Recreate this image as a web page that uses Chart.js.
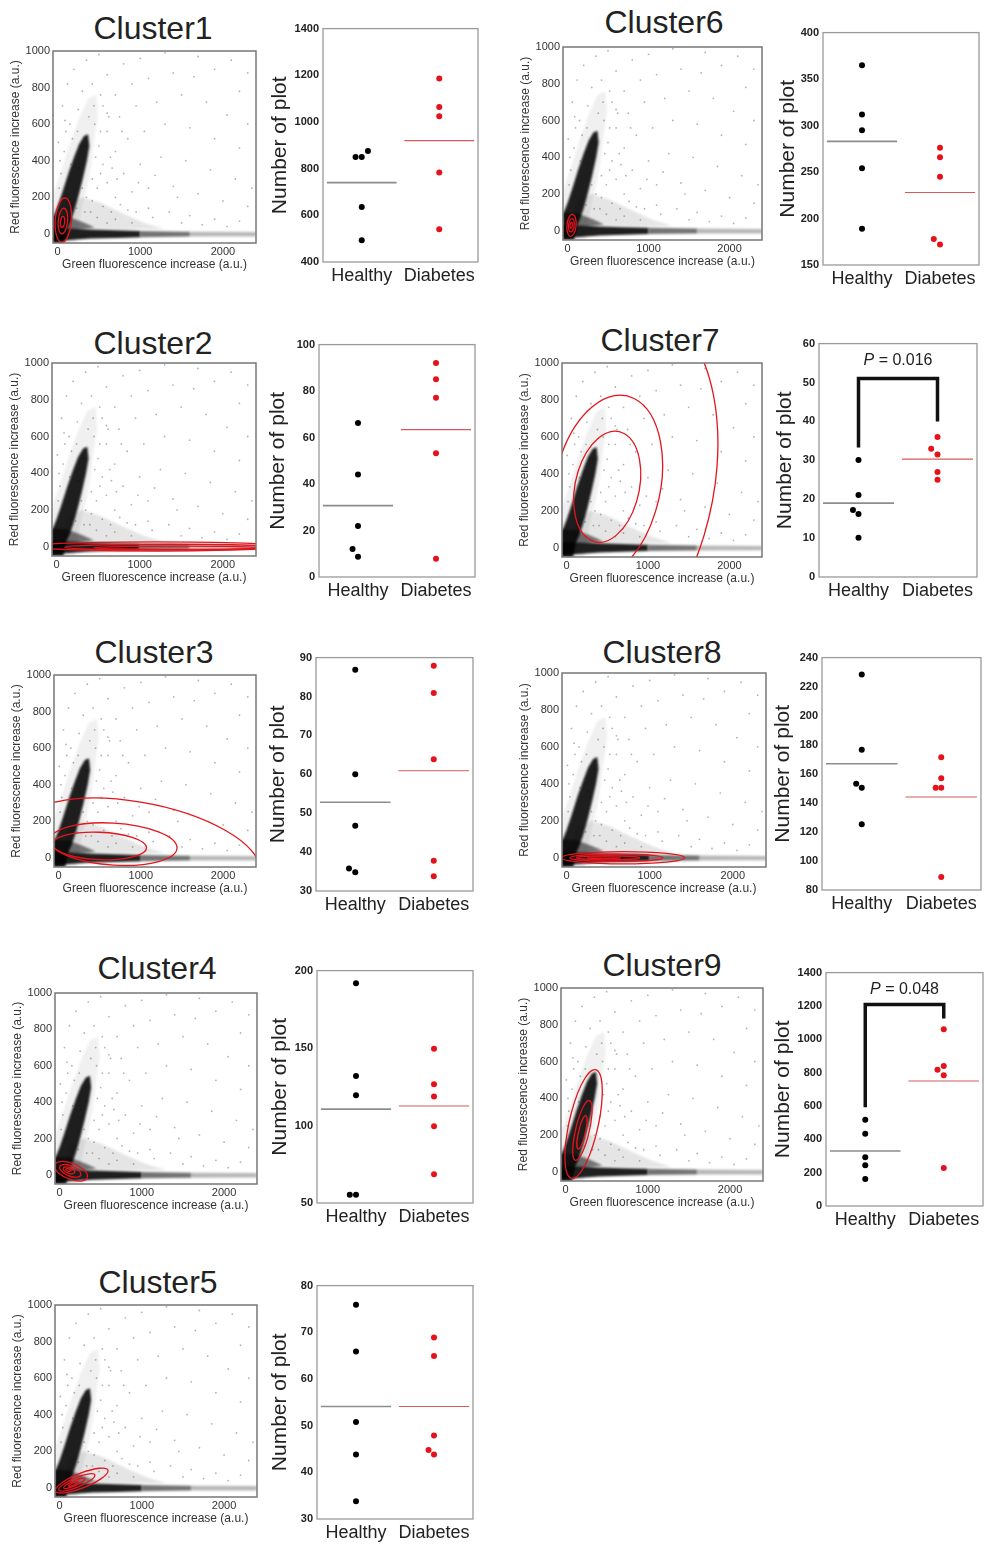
<!DOCTYPE html>
<html>
<head>
<meta charset="utf-8">
<script src="https://cdn.jsdelivr.net/npm/chart.js@4.4.1/dist/chart.umd.min.js"></script>
<style>
  html, body { margin: 0; padding: 0; background: #fff; }
  body { width: 985px; height: 1546px; position: relative; overflow: hidden;
         font-family: "Liberation Sans", Arial, Helvetica, sans-serif; }
  canvas { position: absolute; }
  .ctitle { position: absolute; font-size: 32px; line-height: 1; color: #222;
            transform: translate(-50%, -50%); white-space: nowrap; }
</style>
</head>
<body>
<script>
// ================= DATA =================
const clusterNames = ['Cluster1','Cluster2','Cluster3','Cluster4','Cluster5','Cluster6','Cluster7','Cluster8','Cluster9'];
const groupLabels = ['Healthy', 'Diabetes'];
const scatterXLabel = 'Green fluorescence increase (a.u.)';
const scatterYLabel = 'Red fluorescence increase (a.u.)';
const dotYLabel = 'Number of plot';
const scatterXTicks = [0, 1000, 2000];
const scatterYTicks = [0, 200, 400, 600, 800, 1000];

// counts per subject (5 healthy, 5 diabetes) for each cluster
const healthyCounts = [
  [850, 850, 876, 636, 493],
  [66.3, 44.1, 21.9, 12, 8.7],
  [86.9, 60, 46.8, 35.8, 34.8],
  [191.9, 131.9, 119.6, 55.4, 55.4],
  [75.9, 65.9, 50.8, 43.8, 33.8],
  [365, 312, 295, 254, 189],
  [30.1, 21.1, 17.2, 16.2, 10.1],
  [228.3, 176.5, 153.1, 150.4, 125.3],
  [518, 434, 292, 244, 162]
];
const diabetesCounts = [
  [1186, 1064, 1024, 783, 540],
  [92.1, 85.1, 77.1, 53.3, 7.9],
  [87.9, 80.9, 63.9, 37.8, 33.8],
  [149.6, 126.7, 118.8, 99.5, 68.6],
  [68.9, 64.9, 47.9, 44.8, 43.8],
  [276, 266, 245, 178, 172],
  [36, 33, 31.5, 27, 25],
  [171.4, 157, 150.4, 150.4, 88.9],
  [1060, 840, 818, 784, 228]
];
// horizontal offsets of overlapping dots (category units)
const healthyJitter = [
  [-0.08, 0, 0.08, 0, 0],
  [0, 0, 0, -0.07, 0],
  [0, 0, 0, -0.08, 0],
  [0, 0, 0, -0.08, 0],
  [0, 0, 0, 0, 0],
  [0, 0, 0, 0, 0],
  [0, 0, -0.07, 0, 0],
  [0, 0, -0.07, 0, 0],
  [0, 0, 0, 0, 0]
];
const diabetesJitter = [
  [0, 0, 0, 0, 0],
  [0, 0, 0, 0, 0],
  [0, 0, 0, 0, 0],
  [0, 0, 0, 0, 0],
  [0, 0, 0, -0.07, 0],
  [0, 0, 0, -0.08, 0],
  [0, -0.08, 0, 0, 0],
  [0, 0, -0.07, 0, 0],
  [0, 0, -0.08, 0, 0]
];
const healthyMeans  = [740, 30.7, 52.8, 110.6, 54.1, 283, 19.0, 166.9, 330];
const diabetesMeans = [920, 63.4, 60.9, 112.6, 54.1, 228, 30.3, 144, 750];
const dotYMin  = [400, 0, 30, 50, 30, 150, 0, 80, 0];
const dotYMax  = [1400, 100, 90, 200, 80, 400, 60, 240, 1400];
const dotYStep = [200, 20, 10, 50, 10, 50, 10, 20, 200];

// significance brackets
const pValueText       = [null, null, null, null, null, null, '0.016', null, '0.048'];
const bracketLeftStart = [null, null, null, null, null, null, 33.3, null, 592];
const bracketTop       = [null, null, null, null, null, null, 51, null, 1208];
const bracketRightEnd  = [null, null, null, null, null, null, 40, null, 1124];
const pLabelY          = [null, null, null, null, null, null, 55.6, null, 1300];

// background event cloud (shared by all scatter panels), green/red values
const armDiagonalHalo  = [[-55,-50],[-55,220],[40,340],[140,480],[250,620],[370,740],[470,760],[490,650],[440,500],[410,380],[360,260],[300,150],[260,60],[220,-50]];
const junctionHaze     = [[60,40],[120,160],[300,200],[520,170],[800,110],[1050,60],[1300,25],[400,25]];
const armHorizontalTail= [[1600,12],[2400,10],[2400,-14],[1600,-15]];
const armHorizontalMid = [[1000,16],[1600,12],[1600,-15],[1000,-18]];
const junctionCore     = [[-55,25],[-55,100],[120,95],[300,65],[450,35],[250,22]];
const armHorizontalCore= [[-55,-40],[-55,30],[150,30],[400,24],[700,20],[1000,16],[1000,-18],[700,-22],[400,-26],[150,-34]];
const armDiagonalCore  = [[-55,-50],[-55,90],[0,150],[60,230],[130,330],[200,420],[260,490],[320,535],[370,545],[385,480],[355,400],[305,300],[255,210],[205,130],[160,70],[120,30],[80,-50]];
const cloudSpecks = [
  [60,700],[120,820],[200,900],[350,950],[500,980],[150,600],[250,680],[420,820],[600,870],[800,930],
  [1000,960],[1300,990],[1700,970],[2100,950],[2300,880],[450,600],[550,700],[700,760],[900,820],[1100,850],
  [1400,880],[1650,860],[1900,900],[2200,780],[500,480],[600,560],[750,640],[950,700],[1200,720],[1500,760],
  [1800,720],[2050,650],[2300,600],[550,380],[700,450],[850,520],[1050,560],[1300,600],[1600,580],[1900,520],
  [2200,470],[600,280],[800,330],[1000,380],[1250,420],[1550,400],[1850,350],[2150,300],[2350,250],[700,200],
  [900,230],[1100,250],[1400,260],[1700,220],[2000,180],[2300,150],[850,130],[1100,140],[1350,120],[1600,100],
  [1900,80],[2200,70],[30,400],[20,250],[40,330],[10,500],[80,450],[100,560],[300,250],[350,200],
  [420,180],[480,250],[550,150],[650,120],[400,120],[700,80],[900,60],[380,640],[520,760],[620,640],
  [440,700],[330,480],[460,420],[260,360],[180,520],[720,300],[640,420],[980,280],[1180,320],[1450,200],
  [160,380],[90,620],[240,560],[300,780],[520,560],[600,660],[780,560],[420,300],[520,330],[660,360],
  [230,140],[330,120],[480,90],[600,60],[760,160],[950,120],[1150,90],[1500,60],[1750,50],[2050,40]
];

// Gaussian-component contour ellipses per cluster: [cx, cy, ax, ay, bx, by] (centre + two semi-axis vectors)
const gmmEllipses = [
  [[70,75,30,120,95,-15],[65,70,18,70,55,-8],[60,65,8,30,25,-4]],
  [[1200,2,1500,0,0,25],[1350,-2,1250,0,0,16],[1450,-5,1000,0,0,9]],
  [[1000,45,1450,-110,0,260],[670,75,770,-20,0,115],[500,65,570,-10,0,75]],
  [[140,20,200,-30,10,45],[130,22,130,-20,6,29],[115,25,70,-10,4,16],[105,27,30,-4,2,7]],
  [[270,40,320,55,-15,40],[210,30,220,40,-10,26],[180,25,130,25,-6,14],[170,22,60,12,-3,7]],
  [[50,30,15,60,55,-5],[48,30,9,36,33,-3],[46,30,4,16,14,-1]],
  [[500,330,200,290,360,-80],[500,330,330,478,594,-132],[500,330,660,957,1188,-264]],
  [[680,0,740,0,0,33],[600,0,560,0,0,20],[500,0,380,0,0,11],[450,0,200,0,0,5]],
  [[220,260,170,290,150,-60],[205,225,95,160,70,-30],[200,215,50,90,35,-15]]
];

// ================= LAYOUT (page pixels) =================
const scatterBoxes = [[53,51,256,243],[52,363,256,556],[54,675,256,867],[55,993,257,1184],[55,1305,257,1497],
                      [563,47,762,240],[562,363,762,557],[562,673,766,867],[561,988,763,1181]];
const dotBoxes = [[323,28,478,262],[319,344,475,577],[316,657,473,891],[317,970,473,1203],[317,1285,473,1519],
                  [823,32,979,265],[819,343,977,577],[822,657,981,890],[826,972,983,1206]];
const dotTitleOffset = [43,41,38,37,37,35,34,39,43];
const titlePos = [[153,28],[153,343],[154,652],[157,968],[158,1282],[664,22],[660,340],[662,652],[662,965]];

// ================= RENDER =================
Chart.defaults.font.family = '"Liberation Sans", Arial, Helvetica, sans-serif';
Chart.defaults.color = '#333';
Chart.defaults.animation = false;
const plainNumber = v => String(v);

function makeCanvas(box, leftW, topPad, rightPad, bottomH) {
  const c = document.createElement('canvas');
  const x0 = box[0] - leftW, y0 = box[1] - topPad;
  const w = box[2] - box[0] + leftW + rightPad, h = box[3] - box[1] + topPad + bottomH;
  c.width = w; c.height = h;
  c.style.left = x0 + 'px'; c.style.top = y0 + 'px';
  c.style.width = w + 'px'; c.style.height = h + 'px';
  document.body.appendChild(c);
  return c;
}
function framePlugin(color, width) {
  return { id: 'frame', afterDraw(chart) {
    const a = chart.chartArea, ctx = chart.ctx;
    ctx.save(); ctx.strokeStyle = color; ctx.lineWidth = width;
    ctx.strokeRect(a.left, a.top, a.right - a.left, a.bottom - a.top);
    ctx.restore();
  }};
}
const cloudLayers = [
  [armDiagonalHalo, 'rgba(0,0,0,0.06)'],
  [junctionHaze, 'rgba(0,0,0,0.10)'],
  [armHorizontalTail, 'rgba(0,0,0,0.28)'],
  [armHorizontalMid, 'rgba(0,0,0,0.55)'],
  [junctionCore, 'rgba(0,0,0,0.5)'],
  [armHorizontalCore, 'rgba(0,0,0,0.88)'],
  [armDiagonalCore, 'rgba(0,0,0,0.88)']
];
const cloudPlugin = { id: 'cloud', beforeDatasetsDraw(chart) {
  const {ctx, chartArea: a, scales: {x, y}} = chart;
  ctx.save();
  ctx.beginPath(); ctx.rect(a.left, a.top, a.right - a.left, a.bottom - a.top); ctx.clip();
  ctx.filter = 'blur(1px)';
  for (const [poly, col] of cloudLayers) {
    ctx.beginPath();
    poly.forEach(([vx, vy], k) => {
      const px = x.getPixelForValue(vx), py = y.getPixelForValue(vy);
      if (k) ctx.lineTo(px, py); else ctx.moveTo(px, py);
    });
    ctx.closePath(); ctx.fillStyle = col; ctx.fill();
  }
  ctx.restore();
}};
function ellipsePlugin(list) {
  return { id: 'gmm', afterDatasetsDraw(chart) {
    const {ctx, chartArea: a, scales: {x, y}} = chart;
    ctx.save();
    ctx.beginPath(); ctx.rect(a.left, a.top, a.right - a.left, a.bottom - a.top); ctx.clip();
    ctx.strokeStyle = '#e3141b'; ctx.lineWidth = 1.3;
    for (const e of list) {
      const cx = x.getPixelForValue(e[0]), cy = y.getPixelForValue(e[1]);
      const ax = x.getPixelForValue(e[0] + e[2]) - cx, ay = y.getPixelForValue(e[1] + e[3]) - cy;
      const bx = x.getPixelForValue(e[0] + e[4]) - cx, by = y.getPixelForValue(e[1] + e[5]) - cy;
      ctx.save(); ctx.beginPath(); ctx.transform(ax, ay, bx, by, cx, cy);
      ctx.arc(0, 0, 1, 0, Math.PI * 2); ctx.restore(); ctx.stroke();
    }
    ctx.restore();
  }};
}
function pTextPlugin(i) {
  return { id: 'ptext', afterDatasetsDraw(chart) {
    if (pValueText[i] == null) return;
    const {ctx, scales: {x, y}} = chart;
    const px = x.getPixelForValue(0.5), py = y.getPixelForValue(pLabelY[i]);
    const f1 = 'italic 16px "Liberation Sans", Arial, sans-serif';
    const f2 = '16px "Liberation Sans", Arial, sans-serif';
    const rest = ' = ' + pValueText[i];
    ctx.save(); ctx.fillStyle = '#222'; ctx.textBaseline = 'middle';
    ctx.font = f1; const w1 = ctx.measureText('P').width;
    ctx.font = f2; const w2 = ctx.measureText(rest).width;
    const sx = px - (w1 + w2) / 2;
    ctx.font = f1; ctx.fillText('P', sx, py);
    ctx.font = f2; ctx.fillText(rest, sx + w1, py);
    ctx.restore();
  }};
}

function drawScatter(i) {
  const leftW = 50, topPad = 10, rightPad = 8, bottomH = 34;
  const canvas = makeCanvas(scatterBoxes[i], leftW, topPad, rightPad, bottomH);
  new Chart(canvas, {
    type: 'scatter',
    data: { datasets: [{
      data: cloudSpecks.map(([gx, ry]) => ({x: gx, y: ry})),
      pointRadius: 0.9, pointBackgroundColor: 'rgba(0,0,0,0.3)', pointBorderWidth: 0
    }]},
    options: {
      responsive: false, events: [],
      layout: { padding: { left: 0, top: topPad, right: rightPad, bottom: 0 } },
      plugins: { legend: { display: false }, tooltip: { enabled: false } },
      scales: {
        x: { type: 'linear', min: -55, max: 2400,
             afterBuildTicks: s => { s.ticks = scatterXTicks.map(v => ({value: v})); },
             afterFit: s => { s.height = bottomH; },
             grid: { display: false, drawTicks: false }, border: { display: false },
             ticks: { padding: 2, font: { size: 11 }, color: '#333', maxRotation: 0, callback: plainNumber },
             title: { display: true, text: scatterXLabel, font: { size: 12 }, color: '#333', padding: { top: 0, bottom: 5 } } },
        y: { type: 'linear', min: -50, max: 1000,
             afterBuildTicks: s => { s.ticks = scatterYTicks.map(v => ({value: v})); },
             afterFit: s => { s.width = leftW; },
             grid: { display: false, drawTicks: false }, border: { display: false },
             ticks: { padding: 3, font: { size: 11 }, color: '#333', callback: plainNumber },
             title: { display: true, text: scatterYLabel, font: { size: 12 }, color: '#333', padding: { top: 5.8, bottom: 0 } } }
      }
    },
    plugins: [cloudPlugin, ellipsePlugin(gmmEllipses[i]), framePlugin('#777', 1.5)]
  });
}

function drawDots(i) {
  const leftW = 60, topPad = 10, rightPad = 6, bottomH = 32;
  const canvas = makeCanvas(dotBoxes[i], leftW, topPad, rightPad, bottomH);
  const datasets = [
    { data: [{x: -0.45, y: healthyMeans[i]}, {x: 0.45, y: healthyMeans[i]}], showLine: true,
      borderColor: '#8c8c8c', borderWidth: 1.6, pointRadius: 0 },
    { data: [{x: 0.55, y: diabetesMeans[i]}, {x: 1.45, y: diabetesMeans[i]}], showLine: true,
      borderColor: '#d65a5a', borderWidth: 1.1, pointRadius: 0 },
    { data: healthyCounts[i].map((v, j) => ({x: 0 + healthyJitter[i][j], y: v})),
      pointRadius: 3, pointBackgroundColor: '#000', pointBorderWidth: 0 },
    { data: diabetesCounts[i].map((v, j) => ({x: 1 + diabetesJitter[i][j], y: v})),
      pointRadius: 3, pointBackgroundColor: '#e5121c', pointBorderWidth: 0 }
  ];
  if (pValueText[i] != null) {
    datasets.push({ data: [{x: 0, y: bracketLeftStart[i]}, {x: 0, y: bracketTop[i]},
                           {x: 1, y: bracketTop[i]}, {x: 1, y: bracketRightEnd[i]}],
      showLine: true, borderColor: '#111', borderWidth: 3.5, pointRadius: 0, borderJoinStyle: 'miter', borderCapStyle: 'butt' });
  }
  new Chart(canvas, {
    type: 'scatter',
    data: { datasets },
    options: {
      responsive: false, events: [],
      layout: { padding: { left: 0, top: topPad, right: rightPad, bottom: 0 } },
      plugins: { legend: { display: false }, tooltip: { enabled: false } },
      scales: {
        x: { type: 'linear', min: -0.5, max: 1.5,
             afterBuildTicks: s => { s.ticks = [{value: 0}, {value: 1}]; },
             afterFit: s => { s.height = bottomH; },
             grid: { display: false, drawTicks: false }, border: { display: false },
             ticks: { padding: 3, font: { size: 18 }, color: '#222', maxRotation: 0,
                      callback: (v, idx) => groupLabels[idx] } },
        y: { type: 'linear', min: dotYMin[i], max: dotYMax[i],
             ticks: { stepSize: dotYStep[i], padding: 4, font: { size: 11, weight: 'bold' }, color: '#222', callback: plainNumber },
             afterFit: s => { s.width = leftW; },
             grid: { display: false, drawTicks: false }, border: { display: false },
             title: { display: true, text: dotYLabel, font: { size: 21 }, color: '#222',
                      padding: { top: 47.4 - dotTitleOffset[i], bottom: 0 } } }
      }
    },
    plugins: [framePlugin('#9a9a9a', 1.3), pTextPlugin(i)]
  });
}

clusterNames.forEach((name, i) => {
  const t = document.createElement('div');
  t.className = 'ctitle'; t.textContent = name;
  t.style.left = titlePos[i][0] + 'px'; t.style.top = titlePos[i][1] + 'px';
  document.body.appendChild(t);
  drawScatter(i);
  drawDots(i);
});
</script>
</body>
</html>
